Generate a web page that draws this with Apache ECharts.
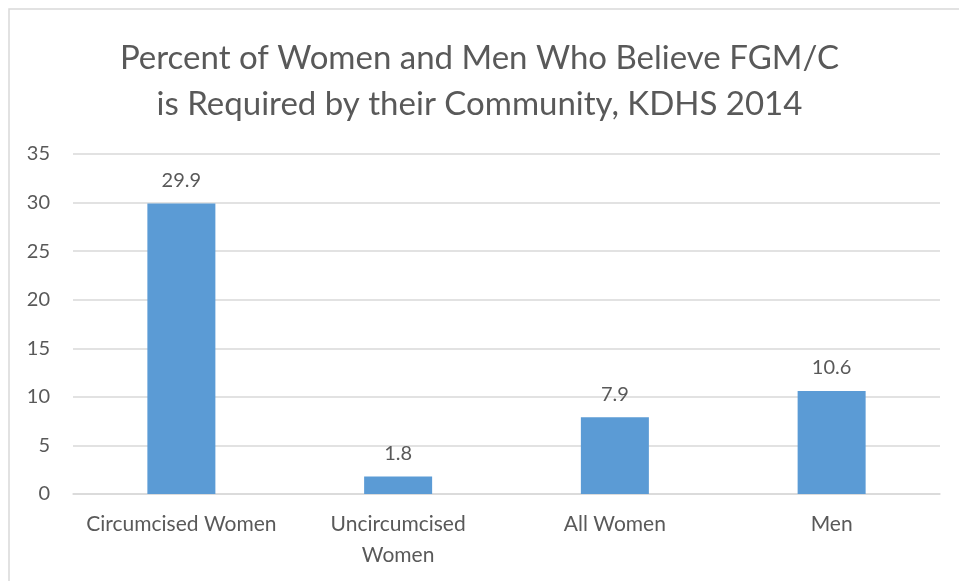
<!DOCTYPE html>
<html>
<head>
<meta charset="utf-8">
<script src="https://cdn.jsdelivr.net/npm/echarts@6/dist/echarts.min.js"></script>
<style>
  html, body { margin: 0; padding: 0; background: #fff; }
  #chart { width: 959px; height: 581px; }
</style>
</head>
<body>
<div id="chart"></div>
<script>
const categories = ['Circumcised Women', 'Uncircumcised\nWomen', 'All Women', 'Men']
const values = [29.9, 1.8, 7.9, 10.6]
const titleLines = 'Percent of Women and Men Who Believe FGM/C\nis Required by their Community, KDHS 2014'

const fontFamily = 'Lato, "Open Sans", sans-serif'
const textColor = '#595959'

const myChart = echarts.init(document.getElementById('chart'))
const options = {
  backgroundColor: '#fff',
  animation: false,
  graphic: [{
    type: 'rect',
    shape: { x: 9, y: 9, width: 1000, height: 1000 },
    style: { fill: 'none', stroke: '#d9d9d9', lineWidth: 1.5 },
    silent: true
  }],
  title: {
    text: titleLines,
    left: 'center',
    top: 30,
    textStyle: {
      color: textColor,
      fontFamily: fontFamily,
      fontWeight: 'normal',
      fontSize: 33,
      lineHeight: 46
    }
  },
  grid: {
    left: 73,
    right: 19,
    top: 154,
    bottom: 87
  },
  xAxis: {
    type: 'category',
    data: categories,
    axisTick: { show: false },
    axisLine: { show: true, lineStyle: { color: '#d9d9d9', width: 1.5 } },
    axisLabel: {
      interval: 0,
      color: textColor,
      fontFamily: fontFamily,
      fontSize: 21,
      lineHeight: 31,
      margin: 15
    }
  },
  yAxis: {
    type: 'value',
    min: 0,
    max: 35,
    interval: 5,
    axisLine: { show: false },
    axisTick: { show: false },
    splitLine: { lineStyle: { color: '#d9d9d9', width: 1.5 } },
    axisLabel: {
      color: textColor,
      fontFamily: fontFamily,
      fontSize: 20,
      margin: 23
    }
  },
  series: [{
    type: 'bar',
    data: values,
    barWidth: 68,
    itemStyle: { color: '#5b9bd5' },
    label: {
      show: true,
      position: 'top',
      distance: 13,
      color: textColor,
      fontFamily: fontFamily,
      fontSize: 20
    }
  }]
}
myChart.setOption(options)
</script>
</body>
</html>
